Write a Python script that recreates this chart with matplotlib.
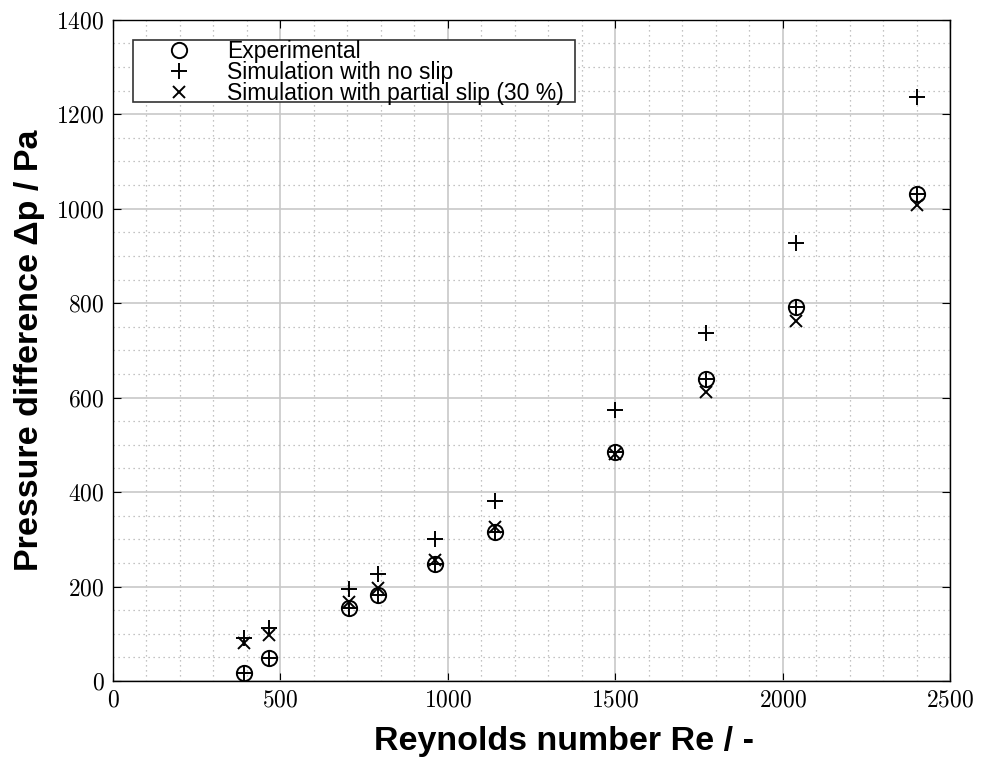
import matplotlib.pyplot as plt
from matplotlib.patches import Rectangle
from matplotlib.ticker import MultipleLocator

# Reynolds numbers of the measurement points
reynolds = [390, 465, 705, 790, 960, 1140, 1500, 1770, 2040, 2400]

# Pressure difference in Pa
dp_experimental = [16, 48, 154, 183, 247, 316, 485, 639, 792, 1032]
dp_no_slip = [90, 113, 195, 226, 300, 382, 573, 737, 927, 1237]
dp_partial_slip = [80, 98, 167, 197, 257, 325, 480, 612, 762, 1008]

plt.rcParams['axes.formatter.use_mathtext'] = True

fig = plt.figure(figsize=(9.91, 7.6), dpi=100)
ax = fig.add_axes([0.114, 0.104, 0.845, 0.870])

ax.plot(reynolds, dp_experimental, 'o', ms=11, mfc='none', mec='black', mew=1.4,
        label='Experimental', zorder=3)
ax.plot(reynolds, dp_experimental, '+', ms=11, color='black', mew=1.4, zorder=3)
ax.plot(reynolds, dp_no_slip, '+', ms=12, color='black', mew=1.4,
        label='Simulation with no slip', zorder=3)
ax.plot(reynolds, dp_partial_slip, 'x', ms=9, color='black', mew=1.4,
        label='Simulation with partial slip (30 %)', zorder=3)

ax.set_xlim(0, 2500)
ax.set_ylim(0, 1400)
ax.xaxis.set_major_locator(MultipleLocator(500))
ax.xaxis.set_minor_locator(MultipleLocator(100))
ax.yaxis.set_major_locator(MultipleLocator(200))
ax.yaxis.set_minor_locator(MultipleLocator(50))

ax.grid(which='major', color='#c8c8c8', lw=1.2, ls='-')
ax.grid(which='minor', color='#b0b0b0', lw=0.9, ls=(0, (1, 3)))
ax.set_axisbelow(True)

ax.tick_params(which='both', direction='in', top=True, right=True)
ax.tick_params(which='major', length=6, labelsize=17, pad=6)
ax.tick_params(which='minor', length=0)
for lab in ax.get_xticklabels() + ax.get_yticklabels():
    lab.set_fontfamily('cmr10')

for sp in ax.spines.values():
    sp.set_linewidth(1.0)

ax.set_xlabel('Reynolds number Re / -', fontfamily='Liberation Sans',
              fontweight='bold', fontsize=24.5)
ax.xaxis.set_label_coords(0.539, -0.068)
ax.set_ylabel('Pressure difference \u0394p / Pa', fontfamily='Liberation Sans',
              fontweight='bold', fontsize=24.5, labelpad=8)

# legend box drawn separately so it can be a bit wider than the entries
ax.add_patch(Rectangle((0.024, 0.876), 0.528, 0.094, transform=ax.transAxes,
                       facecolor='white', edgecolor='#333333', lw=1.2, zorder=4))
leg = ax.legend(loc='upper left', bbox_to_anchor=(0.029, 0.97),
                borderaxespad=0, frameon=False,
                prop={'family': 'Liberation Sans', 'size': 16.5},
                handlelength=3.6, handletextpad=0.3, borderpad=0.0,
                labelspacing=-0.08)
leg.set_zorder(5)

fig.savefig('out.png', dpi=100)
